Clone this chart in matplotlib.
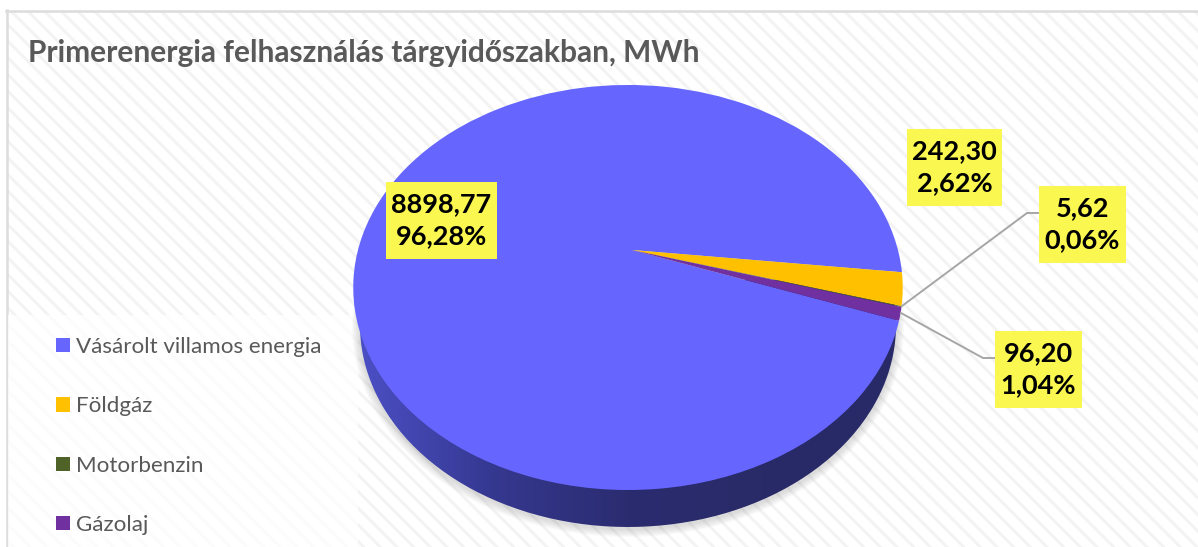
"""
Primerenergia felhasznalas pie chart, redrawn with a perspective face.
"""

import numpy as np
import matplotlib
matplotlib.use("Agg")
import matplotlib.pyplot as plt
from matplotlib.colors import LinearSegmentedColormap
from matplotlib.patches import Ellipse, Rectangle, PathPatch
from matplotlib.path import Path
from matplotlib.transforms import Transform

categories = ["Vásárolt villamos energia", "Földgáz", "Motorbenzin", "Gázolaj"]
values_mwh = [8898.77, 242.30, 5.62, 96.20]
value_labels = ["8898,77", "242,30", "5,62", "96,20"]
percent_labels = ["96,28%", "2,62%", "0,06%", "1,04%"]
colors = ["#6666ff", "#ffc000", "#4f6228", "#7030a0"]
title = "Primerenergia felhasználás tárgyidőszakban, MWh"

plt.rcParams["font.family"] = ["Lato", "Open Sans", "DejaVu Sans"]
plt.rcParams["hatch.linewidth"] = 2.1

W, H = 1198, 547
CX, APEX_Y = 628, 250
APEX_SHIFT = 4
K, A, B = 0.185, 195.6, 270.0


class PieTilt(Transform):
    """Maps the unit pie circle to pixels, apex off centre as in a 3D view."""
    input_dims = 2
    output_dims = 2

    def transform_non_affine(self, pts):
        pts = np.asarray(pts, dtype=float)
        w = 1 + K * pts[:, 1]
        r2 = pts[:, 0] ** 2 + pts[:, 1] ** 2
        return np.column_stack([CX + B * pts[:, 0] / w + APEX_SHIFT * (1 - r2),
                                APEX_Y - A * pts[:, 1] / w])


fig = plt.figure(figsize=(W / 100, H / 100), dpi=100)
ax = fig.add_axes([0, 0, 1, 1])

wedges, _ = ax.pie(values_mwh, colors=colors, startangle=-19.8, counterclock=False,
                   wedgeprops={"linewidth": 0})
ax.set_aspect("auto")
tilt = PieTilt()
for wedge in wedges:
    wedge.set_transform(tilt + ax.transData)
    wedge.set_zorder(5)

# background card, no right or bottom edge in the source
ax.add_patch(Rectangle((8, 11), W, H, facecolor="white", edgecolor="#f3f3f3",
                       hatch="\\\\", linewidth=0, zorder=0.5))
ax.plot([6, W], [10.5, 10.5], color="#dcdcdc", lw=1.8, zorder=1)
ax.plot([7, 7], [10, H], color="#dcdcdc", lw=1.8, zorder=1)
ax.add_patch(Rectangle((8, 315), 350, 235, facecolor="white", alpha=0.75,
                       linewidth=0, zorder=1))

# soft shadow under the disc
for grow in range(1, 9):
    ax.add_patch(Ellipse((628, 327), 2 * (268 + grow), 2 * (202 + grow), facecolor="#808080",
                         alpha=0.035, linewidth=0, zorder=1.5))

# side wall of the disc, shaded left to right
theta = np.linspace(0, 2 * np.pi, 300)
wall = np.column_stack([628 + 268 * np.cos(theta), 325 + 202 * np.sin(theta)])
shade = ax.imshow(np.linspace(0, 1, 256).reshape(1, -1), extent=(360, 896, 530, 280),
                  cmap=LinearSegmentedColormap.from_list(
                      "wall", ["#4b4fc4", "#35388f", "#2b2c70", "#292b68", "#272a66"]),
                  aspect="auto", zorder=3)
shade.set_clip_path(PathPatch(Path(wall), transform=ax.transData))

ax.set_xlim(0, W)
ax.set_ylim(H, 0)
ax.axis("off")

# leader lines
ax.plot([902, 1027, 1039], [306, 213, 213], color="#a6a6a6", lw=1.4, zorder=6)
ax.plot([901, 983, 995], [313, 358, 358], color="#a6a6a6", lw=1.4, zorder=6)

# data labels
label_boxes = [(386, 182, 111, 77), (907, 129, 95, 77), (1039, 186, 87, 77), (995, 331, 87, 77)]
for i in range(len(categories)):
    x, y, w, h = label_boxes[i]
    ax.add_patch(Rectangle((x, y), w, h, facecolor="#faf750", linewidth=0, zorder=7))
    ax.text(x + w / 2, y + h / 2, value_labels[i] + "\n" + percent_labels[i], ha="center",
            va="center", fontsize=19.5, fontweight="bold", color="black", linespacing=1.4, zorder=8)

ax.text(28, 53, title, fontsize=21.5, fontweight="bold", color="#595959", ha="left",
        va="center", zorder=8)

legend = ax.legend(wedges, categories, loc="upper left", bbox_to_anchor=(56 / W, 1 - 337 / H),
                   frameon=False, fontsize=16.1, labelcolor="#595959", handlelength=0.62,
                   handleheight=0.62, handletextpad=0.27, labelspacing=1.76,
                   borderpad=0, borderaxespad=0)
legend.set_zorder(8)

fig.savefig("out.png", dpi=100)
